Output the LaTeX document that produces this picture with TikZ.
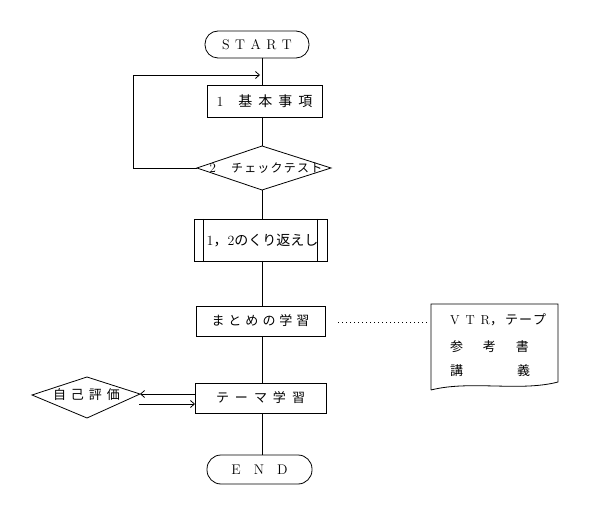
\documentclass[tikz,border=0pt]{standalone}
\usepackage{fontspec}
\newfontfamily\jp{Noto Sans CJK JP}
\usetikzlibrary{arrows.meta}
\newcommand\gp[1]{\hspace{#1pt}}
\begin{document}
\begin{tikzpicture}[x=1pt,y=-1pt,
  every node/.style={inner sep=0pt, outer sep=0pt},
  ln/.style={line width=0.8pt},
  procbox/.style={draw, line width=0.8pt, rectangle},
  termbox/.style={draw, line width=0.8pt, rounded corners=13pt},
  arr/.style={ln, -{Straight Barb[length=4pt,width=7pt]}},
  dotln/.style={line width=1pt, dash pattern=on 1pt off 3pt},
  lt/.style={font=\fontsize{14}{14}\selectfont},
  jt/.style={font=\jp\fontsize{13}{13}\selectfont}]
\useasboundingbox (0,0) rectangle (600,505);
\coordinate (ax) at (262,0);

% terminals
\node[termbox, lt, minimum width=104pt, minimum height=27pt] (start) at (257,44.5)
  {S\gp{5.5}T\gp{5.5}A\gp{5.5}R\gp{5.5}T};
\node[termbox, lt, minimum width=105pt, minimum height=29pt, rounded corners=14pt] (end) at (259.5,469.5)
  {E\gp{13}N\gp{13}D};

% box 1
\node[procbox, minimum width=115pt, minimum height=32pt] (b1) at (264.5,101)
  {\fontsize{14}{14}\selectfont 1\gp{15}{\jp 基\gp{6}本\gp{6}事\gp{6}項}};

% diamond 2
\coordinate (d2l) at (197,168);
\coordinate (d2t) at (262,146);
\coordinate (d2r) at (331,168);
\coordinate (d2b) at (262,190);
\draw[ln] (d2l) -- (d2t) -- (d2r) -- (d2b) -- cycle;
\node (d2) at (266,168)
  {\fontsize{13}{13}\selectfont 2\gp{15}{\jp\fontsize{12}{12}\selectfont チ\gp{1.2}ェ\gp{1.2}ッ\gp{1.2}ク\gp{1.2}テ\gp{1.2}ス\gp{1.2}ト}};

% predefined process
\node[procbox, minimum width=133pt, minimum height=42pt] (pp) at (260.5,240) {};
\draw[ln] ([xshift=9pt]pp.north west) -- ([xshift=9pt]pp.south west);
\draw[ln] ([xshift=-10pt]pp.north east) -- ([xshift=-10pt]pp.south east);
\node (ppt) at (262.5,241)
  {\fontsize{14}{14}\selectfont 1{\jp，}2{\jp のくり返えし}};

% matome
\node[procbox, minimum width=129pt, minimum height=30pt] (mt) at (260.5,321)
  {\jp\fontsize{13}{13}\selectfont ま\gp{4}と\gp{4}め\gp{4}の\gp{4}学\gp{4}習};

% theme
\node[procbox, minimum width=131pt, minimum height=30pt] (tm) at (260.5,398)
  {\jp\fontsize{13}{13}\selectfont テ\gp{6}ー\gp{6}マ\gp{6}学\gp{6}習};

% self evaluation diamond
\coordinate (d1l) at (32,395);
\coordinate (d1t) at (87,377);
\coordinate (d1r) at (140,394);
\coordinate (d1b) at (87,418);
\draw[ln] (d1l) -- (d1t) -- (d1r) -- (d1b) -- cycle;
\node (d1) at (86.5,395)
  {\jp\fontsize{13}{13}\selectfont 自\gp{5}己\gp{5}評\gp{5}価};

% document shape
\coordinate (docA) at (431,304);
\coordinate (docB) at (558,304);
\coordinate (docC) at (558,382);
\coordinate (docD) at (431,390);
\draw[ln] (docD) -- (docA) -- (docB) -- (docC)
  .. controls (520,392) and (470,380) .. (docD);
\node[anchor=west] (doc1) at (450,320)
  {\fontsize{13}{13}\selectfont V\gp{6}T\gp{6}R{\jp，}\gp{2}{\jp テ\gp{1}ー\gp{1}プ}};
\node[anchor=west] (doc2) at (450,347)
  {\jp\fontsize{13}{13}\selectfont 参\gp{20}考\gp{20}書};
\node[anchor=west] (doc3) at (450,371)
  {\jp\fontsize{13}{13}\selectfont 講\gp{54}義};

% connectors
\coordinate (lp) at (133,75);
\coordinate (lpe) at (260,75);
\draw[ln] (start.south -| ax) -- (b1.north -| ax);
\draw[ln] (b1.south -| ax) -- (d2t);
\draw[arr] (d2l) -| (lp) -- (lpe);
\draw[ln] (d2b) -- (pp.north -| ax);
\draw[ln] (pp.south -| ax) -- (mt.north -| ax);
\draw[ln] (mt.south -| ax) -- (tm.north -| ax);
\draw[ln] (tm.south -| ax) -- (end.north -| ax);

\coordinate (dotA) at (338,322);
\coordinate (dotB) at (427,322);
\draw[dotln] (dotA) -- (dotB);

\draw[arr] ([yshift=4pt]tm.west) -- (d1r);
\coordinate (sb) at (139,404);
\draw[arr] (sb) -- ([yshift=-6pt]tm.west);
\end{tikzpicture}
\end{document}
